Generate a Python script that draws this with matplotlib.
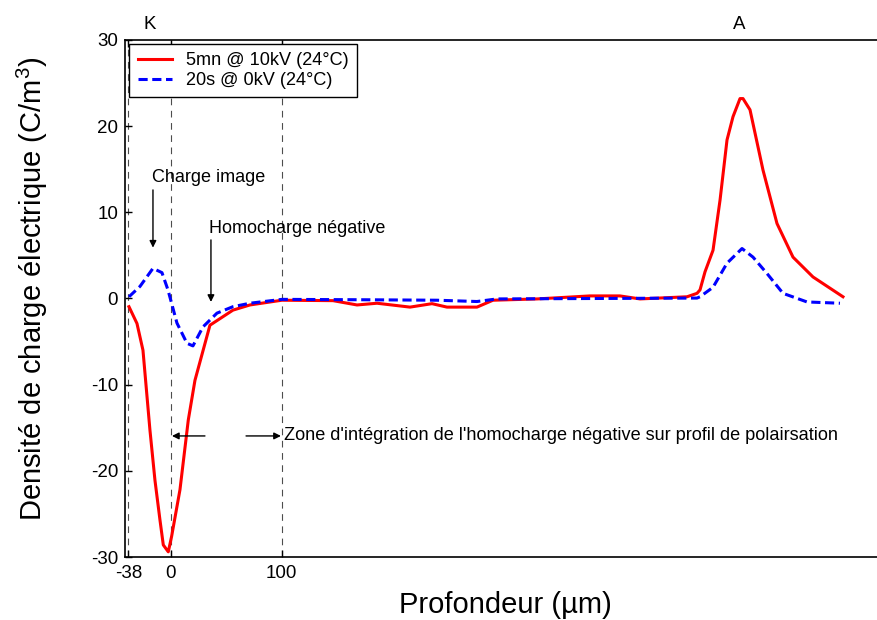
import matplotlib
matplotlib.use("Agg")
import matplotlib.pyplot as plt

plt.rcParams['font.family'] = ['Liberation Sans', 'DejaVu Sans']
plt.rcParams['mathtext.fontset'] = 'custom'
plt.rcParams['mathtext.rm'] = 'Liberation Sans'
plt.rcParams['axes.unicode_minus'] = False

# Profils de charge (profondeur en µm, densité en C/m3)
x_pol = [-37.4, -30.2, -24.8, -18.5, -14.0, -9.5, -6.5, -2.0, 1.0, 8.5, 16.0, 22.0,
         35.5, 56.2, 71.5, 100.3, 146.3, 167.9, 185.9, 215.6, 235.4, 248.9, 275.9,
         290.3, 330.0, 377.6, 404.6, 422.7, 465.0, 474.0, 476.7, 481.2, 488.4, 494.7,
         501.0, 506.4, 512.7, 515.4, 521.7, 533.4, 546.0, 560.4, 578.4, 605.4]
y_pol = [-0.95, -2.9, -6.0, -15.3, -21.1, -25.7, -28.6, -29.4, -27.6, -22.2, -14.1, -9.5,
         -3.1, -1.35, -0.75, -0.2, -0.25, -0.75, -0.55, -1.0, -0.6, -1.0, -1.0,
         -0.2, -0.05, 0.3, 0.3, -0.05, 0.2, 0.6, 1.0, 3.1, 5.6, 11.4,
         18.4, 21.1, 23.2, 23.2, 21.9, 14.9, 8.7, 4.8, 2.5, 0.2]

x_ref = [-37.4, -27.5, -15.8, -7.7, -2.3, 5.8, 14.8, 20.2, 29.2, 41.8, 56.2, 71.5,
         100.3, 180.0, 240.0, 275.9, 293.9, 380.0, 474.0, 476.7, 488.4, 501.0,
         514.5, 524.4, 537.0, 551.4, 573.0, 602.7]
y_ref = [0.2, 1.4, 3.5, 3.0, 1.0, -2.85, -5.2, -5.5, -3.3, -1.7, -0.95, -0.55,
         -0.1, -0.15, -0.2, -0.35, -0.05, 0.0, 0.05, 0.2, 1.3, 4.1,
         5.8, 4.8, 2.9, 0.6, -0.4, -0.55]

xticks = [-38, 0, 100]
yticks = [-30, -20, -10, 0, 10, 20, 30]
vlines = [-38, 0, 100]

fig = plt.figure(figsize=(8.77, 6.2), dpi=100)
ax = fig.add_axes([0.1425, 0.1016, 0.8600, 0.8339])

for xv in vlines:
    ax.axvline(xv, color='0.3', lw=0.8, dashes=(6, 5), zorder=1)

ax.plot(x_pol, y_pol, color='#ff0000', lw=2.2, label='5mn @ 10kV (24°C)', zorder=3)
ax.plot(x_ref, y_ref, color='#0000ff', lw=2.2, dashes=(3, 1.5),
        label='20s @ 0kV (24°C)', zorder=4)

ax.set_xlim(-41, 638)
ax.set_ylim(-30, 30)
ax.set_xticks(xticks)
ax.set_yticks(yticks)
ax.tick_params(direction='in', top=True, right=False, labelsize=13.5, length=5,
               width=1, pad=5)
ax.tick_params(axis='x', pad=6)
for s in ax.spines.values():
    s.set_linewidth(1.2)

ax.set_ylabel(r'Densité de charge électrique (C/m$^\mathregular{3}$)', fontsize=21)
ax.yaxis.set_label_coords(-0.100, 0.518)
ax.set_xlabel('Profondeur (µm)', fontsize=21)
ax.xaxis.set_label_coords(0.505, -0.066)

ax.text(-18.5, 31.8, 'K', fontsize=13.5, ha='center', va='center')
ax.text(511.8, 31.8, 'A', fontsize=13.5, ha='center', va='center')

arrow = dict(arrowstyle='-|>', color='black', lw=1, mutation_scale=10, shrinkA=0, shrinkB=0)
ax.text(-16.7, 14.0, 'Charge image', fontsize=13, ha='left', va='center')
ax.annotate('', xy=(-15.8, 5.9), xytext=(-15.8, 12.6), arrowprops=arrow)
ax.text(34.6, 8.1, 'Homocharge négative', fontsize=13, ha='left', va='center')
ax.annotate('', xy=(36.4, -0.4), xytext=(36.4, 6.8), arrowprops=arrow)
ax.annotate('', xy=(1.3, -15.95), xytext=(31, -15.95), arrowprops=arrow)
ax.annotate('', xy=(99.4, -15.95), xytext=(68, -15.95), arrowprops=arrow)
ax.text(102.1, -15.95, "Zone d'intégration de l'homocharge négative sur profil de polairsation",
        fontsize=13.1, ha='left', va='center')

leg = ax.legend(loc='upper left', bbox_to_anchor=(0.006, 0.992), borderaxespad=0,
                fontsize=13.1, fancybox=False, framealpha=1, edgecolor='black',
                handlelength=1.9, handletextpad=0.75, borderpad=0.45, labelspacing=0.15)
leg.get_frame().set_linewidth(1)

fig.savefig('out.png', dpi=100)
